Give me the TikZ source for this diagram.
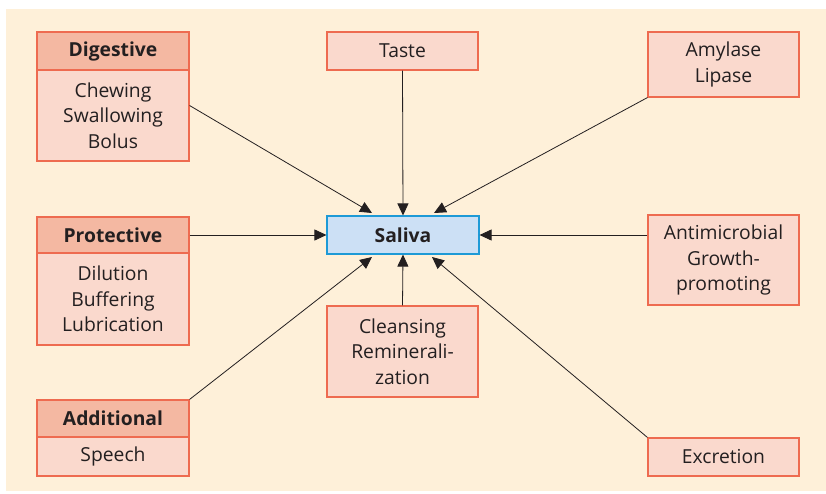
\documentclass[tikz,border=0pt]{standalone}
\usepackage{fontspec}
\setmainfont{Open Sans}
\usetikzlibrary{arrows.meta}
\definecolor{bgc}{HTML}{FEF0D9}
\definecolor{hdrc}{HTML}{F4B8A2}
\definecolor{bodyc}{HTML}{FAD9CD}
\definecolor{edgec}{HTML}{EE6B50}
\definecolor{salc}{HTML}{CCE0F5}
\definecolor{saledge}{HTML}{1E9AD6}
\definecolor{txt}{HTML}{231F20}
\tikzset{
  box/.style={draw=edgec, line width=1.1pt, inner sep=0pt, text=txt, align=center,
    font=\fontsize{19.3}{25.5}\selectfont},
  hdr/.style={box, fill=hdrc, font=\fontsize{19.3}{25.5}\selectfont\bfseries},
  bdy/.style={box, fill=bodyc},
  sal/.style={draw=saledge, fill=salc, line width=1.1pt, text=txt, font=\fontsize{19.3}{25.5}\selectfont\bfseries},
  conn/.style={draw=txt, line width=0.8pt, -{Triangle[length=12pt,width=11pt]}}
}
\begin{document}
\begin{tikzpicture}[x=1pt,y=-1pt]
\useasboundingbox (0,0) rectangle (826,493);
\fill[bgc] (6,9) rectangle (826,491);
% Digestive
\node[hdr, minimum width=152pt, minimum height=38pt] (dig) at (113,51) {Digestive};
\node[bdy, minimum width=152pt, minimum height=91pt] (digb) at (113,115.5) {Chewing\\Swallowing\\Bolus};
% Protective
\node[hdr, minimum width=152pt, minimum height=36pt] (pro) at (113,235) {Protective};
\node[bdy, minimum width=152pt, minimum height=92pt] (prob) at (113,299) {Dilution\\Buffering\\Lubrication};
% Additional
\node[hdr, minimum width=152pt, minimum height=37pt] (add) at (113,418.5) {Additional};
\node[bdy, minimum width=152pt, minimum height=39pt] (addb) at (113,456.5) {Speech};
% Taste
\node[bdy, minimum width=151pt, minimum height=38pt] (taste) at (402.5,51) {Taste};
% Amylase
\node[bdy, minimum width=151pt, minimum height=65pt] (amy) at (723.5,64.5) {Amylase\\Lipase};
% Antimicrobial
\node[bdy, minimum width=151pt, minimum height=90pt] (anti) at (723.5,260) {Antimicrobial\\Growth-\\promoting};
% Cleansing
\node[bdy, minimum width=151pt, minimum height=91pt] (clean) at (402.5,351.5) {Cleansing\\Reminerali-\\zation};
% Excretion
\node[bdy, minimum width=151pt, minimum height=38pt] (exc) at (723.5,457) {Excretion};
% Saliva
\node[sal, minimum width=152pt, minimum height=38pt, inner sep=0pt] (sal) at (403,235) {Saliva};
% connectors
\coordinate (s1) at (372,213);
\coordinate (s3) at (434,213);
\coordinate (s6) at (372,257);
\coordinate (s8) at (432,257);
\draw[conn] (digb.east) ++(0,-10) -- (s1);
\draw[conn] (taste.south) -- (sal.north);
\draw[conn] (amy.south west) -- (s3);
\draw[conn] (pro.east) -- (sal.west);
\draw[conn] (anti.west |- sal.east) -- (sal.east);
\draw[conn] (add.north east) -- (s6);
\draw[conn] (clean.north) -- (sal.south);
\draw[conn] (exc.north west) -- (s8);
\end{tikzpicture}
\end{document}
